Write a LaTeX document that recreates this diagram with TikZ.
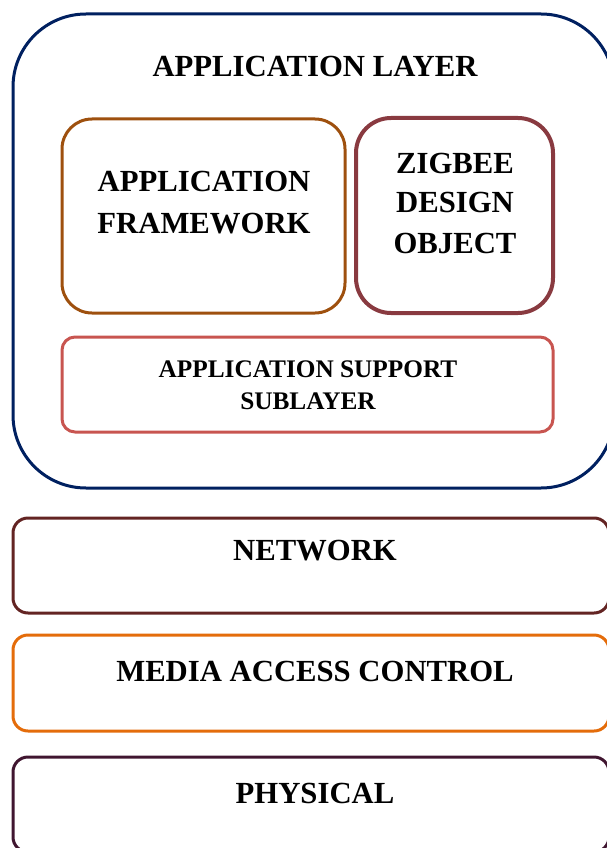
\documentclass[tikz,border=0pt]{standalone}
\usepackage{fontspec}
\setmainfont{Liberation Serif}
\definecolor{cOuter}{RGB}{0,32,96}
\definecolor{cAF}{RGB}{158,80,14}
\definecolor{cZB}{RGB}{137,58,64}
\definecolor{cAPS}{RGB}{200,85,80}
\definecolor{cNET}{RGB}{99,36,35}
\definecolor{cMAC}{RGB}{228,108,10}
\definecolor{cPHY}{RGB}{64,22,48}
\tikzset{
  layerbox/.style={draw, line width=3pt, inner sep=0pt, outer sep=0pt, fill=none},
  bigtxt/.style={font=\fontsize{30.7}{36}\selectfont\bfseries, anchor=base, inner sep=0pt},
  smalltxt/.style={font=\fontsize{25.3}{30}\selectfont\bfseries, anchor=base, inner sep=0pt},
}
\begin{document}
\begin{tikzpicture}[x=1pt,y=-1pt]
\useasboundingbox (0,0) rectangle (607,848);
\clip (0,0) rectangle (607,848);
% boxes
\node[layerbox, draw=cOuter, rounded corners=73pt, minimum width=601pt, minimum height=474pt] (outer) at (313.5,251) {};
\node[layerbox, draw=cAF, rounded corners=30pt, minimum width=283pt, minimum height=194pt] (af) at (203.5,216) {};
\node[layerbox, draw=cZB, line width=4pt, rounded corners=35pt, minimum width=197pt, minimum height=195pt] (zb) at (454.5,215.5) {};
\node[layerbox, draw=cAPS, rounded corners=13pt, minimum width=491pt, minimum height=95pt] (aps) at (307.5,384.5) {};
\node[layerbox, draw=cNET, rounded corners=15pt, minimum width=596pt, minimum height=95pt] (net) at (311,565.5) {};
\node[layerbox, draw=cMAC, rounded corners=15pt, minimum width=596pt, minimum height=96pt] (mac) at (311,683) {};
\node[layerbox, draw=cPHY, rounded corners=15pt, minimum width=596pt, minimum height=95pt] (phy) at (311,804.5) {};
% texts
\node[bigtxt] (tAL) at (315,77) {APPLICATION LAYER};
\node[bigtxt] (tAF1) at (204,191) {APPLICATION};
\node[bigtxt] (tAF2) at (204,233) {FRAMEWORK};
\node[bigtxt] (tZB1) at (455,173) {ZIGBEE};
\node[bigtxt] (tZB2) at (455,212) {DESIGN};
\node[bigtxt] (tZB3) at (455,253) {OBJECT};
\node[smalltxt] (tAPS1) at (308,377) {APPLICATION SUPPORT};
\node[smalltxt] (tAPS2) at (308,409) {SUBLAYER};
\node[bigtxt] (tNET) at (315,560) {NETWORK};
\node[bigtxt] (tMAC) at (315,681) {MEDIA ACCESS CONTROL};
\node[bigtxt] (tPHY) at (315,803) {PHYSICAL};
\end{tikzpicture}
\end{document}
